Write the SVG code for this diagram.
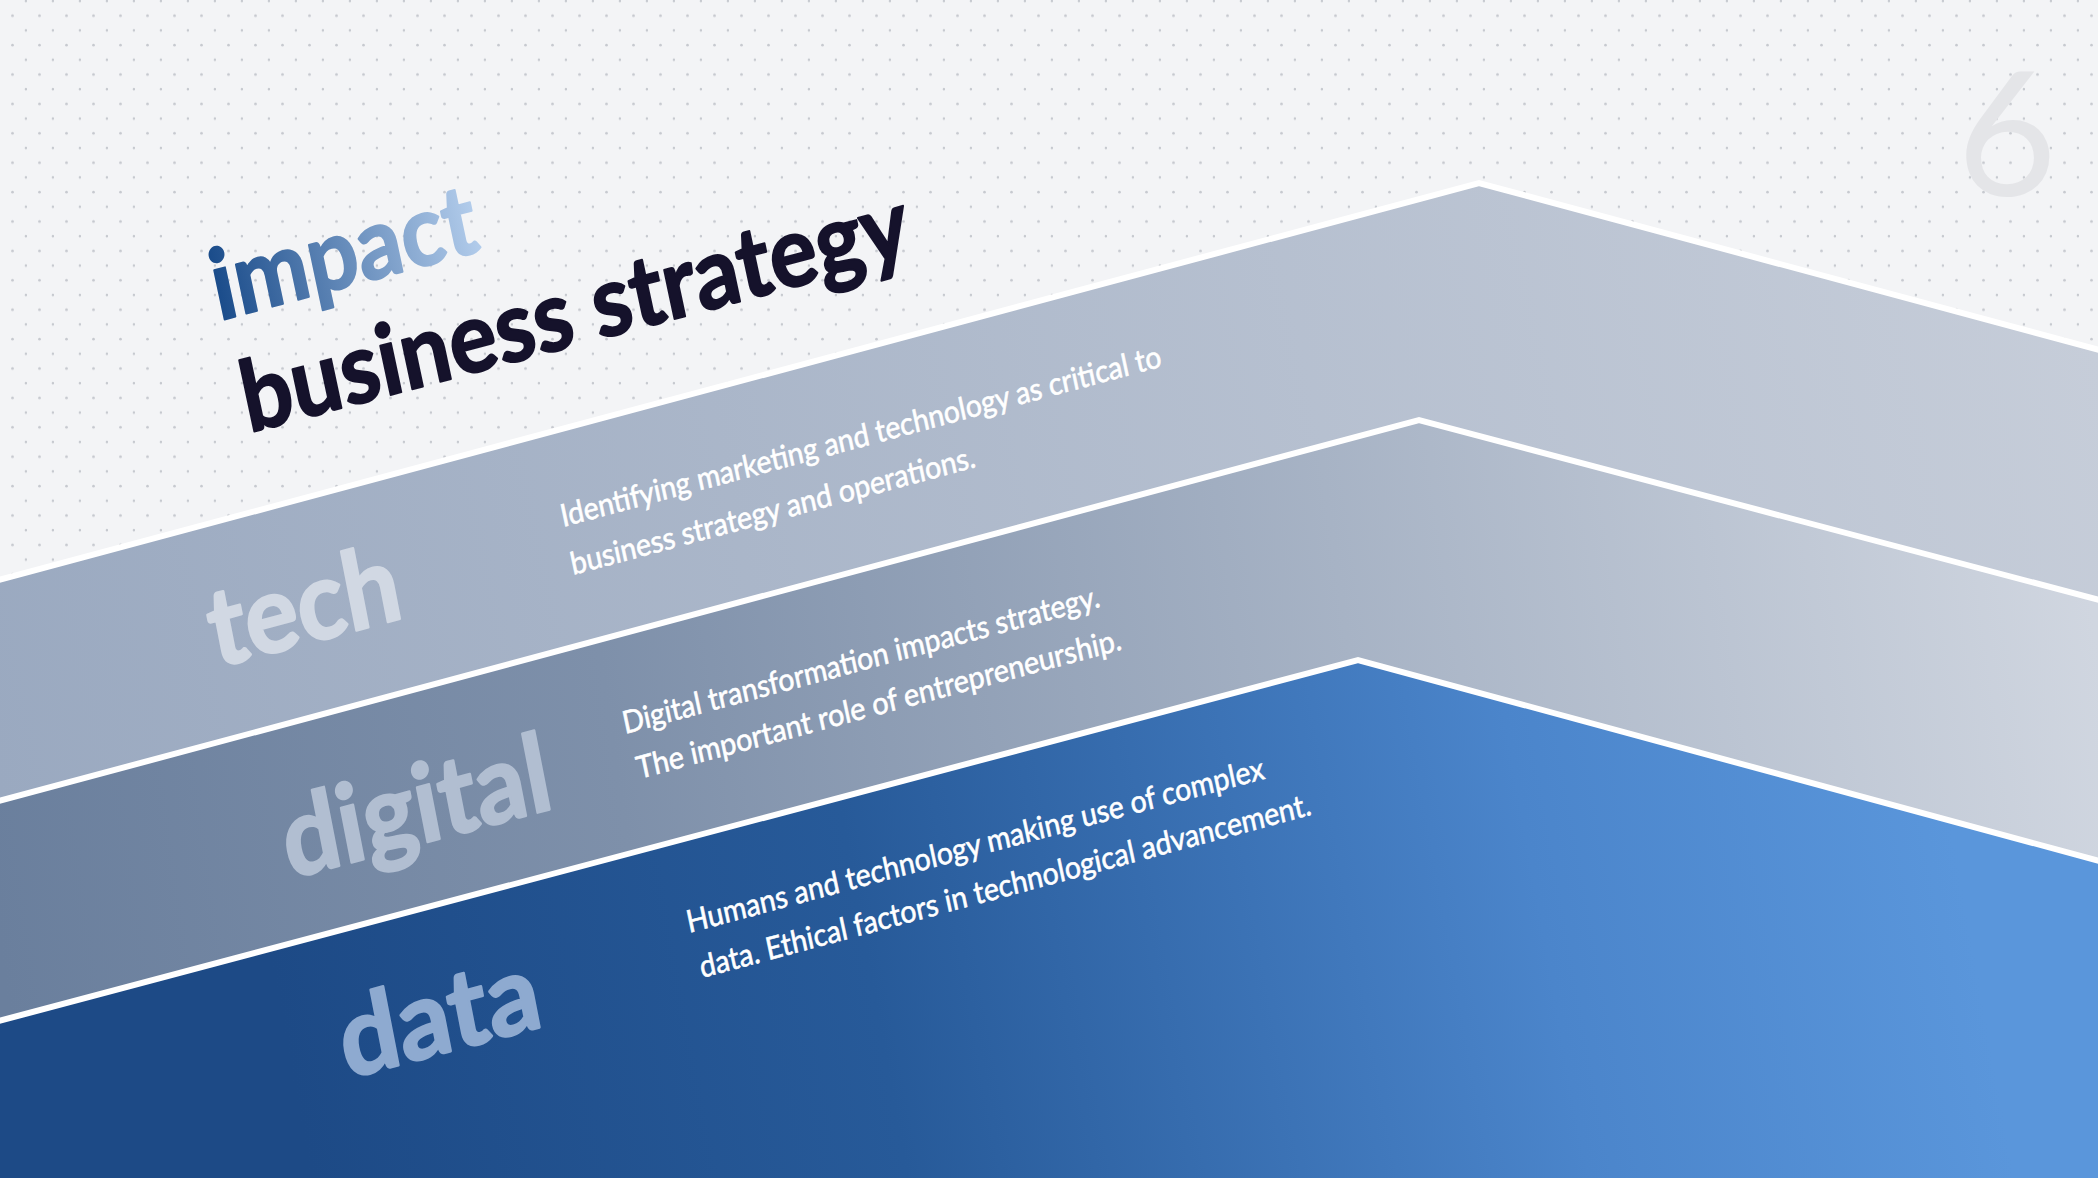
<svg xmlns="http://www.w3.org/2000/svg" width="2098" height="1178" viewBox="0 0 2098 1178">
  <style>
    .lbl { font-family: Lato, "Liberation Sans", sans-serif; font-weight: 700; font-size: 108px; stroke-width: 2.5; stroke-linejoin: round; }
    .desc { font-family: Lato, "Liberation Sans", sans-serif; font-weight: 400; font-size: 31px; fill: #ffffff; stroke: #ffffff; stroke-width: 0.6; }
    .ttl { font-family: Lato, "Liberation Sans", sans-serif; font-weight: 700; font-size: 98px; stroke-width: 2; stroke-linejoin: round; }
    .sep { fill: none; stroke: #ffffff; stroke-width: 6; stroke-linejoin: miter; }
  </style>
  <defs>
    <pattern id="dots" patternUnits="userSpaceOnUse" x="0" y="-6" width="27" height="29.4">
      <circle cx="26" cy="7" r="1.3" fill="#c6c9cf"/>
      <circle cx="12.5" cy="21.7" r="1.3" fill="#c6c9cf"/>
    </pattern>
    <linearGradient id="gTech" gradientUnits="userSpaceOnUse" x1="0" y1="800" x2="2098" y2="350">
      <stop offset="0" stop-color="#9aa9c0"/>
      <stop offset="1" stop-color="#c6cdd9"/>
    </linearGradient>
    <linearGradient id="gDigital" gradientUnits="userSpaceOnUse" x1="0" y1="950" x2="2098" y2="650">
      <stop offset="0" stop-color="#6a7f9d"/>
      <stop offset="0.3" stop-color="#7e90aa"/>
      <stop offset="1" stop-color="#d0d6e0"/>
    </linearGradient>
    <linearGradient id="gData" gradientUnits="userSpaceOnUse" x1="300" y1="1120" x2="1950" y2="820">
      <stop offset="0" stop-color="#1d4a86"/>
      <stop offset="0.35" stop-color="#275a99"/>
      <stop offset="0.75" stop-color="#4b85cb"/>
      <stop offset="1" stop-color="#5a96db"/>
    </linearGradient>
    <linearGradient id="gImpact" x1="0" y1="0" x2="1" y2="0">
      <stop offset="0" stop-color="#184a89"/>
      <stop offset="1" stop-color="#b2cceb"/>
    </linearGradient>
  </defs>

  <g id="background">
    <rect x="0" y="0" width="2098" height="1178" fill="#f3f4f6"/>
    <rect x="0" y="0" width="2098" height="1178" fill="url(#dots)"/>
    <text x="2007" y="196" text-anchor="middle" font-family="Lato, 'Liberation Sans', sans-serif" font-weight="400" font-size="172" fill="#e4e5e8">6</text>
  </g>

  <g id="title">
    <text class="ttl" fill="url(#gImpact)" stroke="url(#gImpact)" transform="translate(219,321) rotate(-15) skewX(-3)" textLength="272" lengthAdjust="spacingAndGlyphs">impact</text>
    <text class="ttl" fill="#15122b" stroke="#15122b" transform="translate(249,433) rotate(-15) skewX(-3)" textLength="688" lengthAdjust="spacingAndGlyphs">business strategy</text>
  </g>

  <g id="tech">
    <polygon points="0,580 1479,183 2098,350 2098,1178 0,1178" fill="url(#gTech)"/>
    <text class="lbl" fill="#d1d8e3" stroke="#d1d8e3" transform="translate(216,668) rotate(-15) skewX(-4)" textLength="196" lengthAdjust="spacingAndGlyphs">tech</text>
    <text class="desc" transform="translate(563,527) rotate(-15) skewX(-3)" textLength="621" lengthAdjust="spacingAndGlyphs">Identifying marketing and technology as critical to</text>
    <text class="desc" transform="translate(573,575) rotate(-15) skewX(-3)" textLength="418" lengthAdjust="spacingAndGlyphs">business strategy and operations.</text>
  </g>

  <g id="digital">
    <polygon points="0,801 1419,420 2098,600 2098,1178 0,1178" fill="url(#gDigital)"/>
    <text class="lbl" fill="#b1bed1" stroke="#b1bed1" transform="translate(290,879) rotate(-15) skewX(-4)" textLength="275" lengthAdjust="spacingAndGlyphs">digital</text>
    <text class="desc" transform="translate(625,734) rotate(-15) skewX(-3)" textLength="493" lengthAdjust="spacingAndGlyphs">Digital transformation impacts strategy.</text>
    <text class="desc" transform="translate(639,779) rotate(-15) skewX(-3)" textLength="501" lengthAdjust="spacingAndGlyphs">The important role of entrepreneurship.</text>
  </g>

  <g id="data">
    <polygon points="0,1021 1358,660 2098,861 2098,1178 0,1178" fill="url(#gData)"/>
    <text class="lbl" fill="#8eaad0" stroke="#8eaad0" transform="translate(347,1079) rotate(-15) skewX(-4)" textLength="205" lengthAdjust="spacingAndGlyphs">data</text>
    <text class="desc" transform="translate(689,933) rotate(-15) skewX(-3)" textLength="597" lengthAdjust="spacingAndGlyphs">Humans and technology making use of complex</text>
    <text class="desc" transform="translate(702,978) rotate(-15) skewX(-3)" textLength="632" lengthAdjust="spacingAndGlyphs">data. Ethical factors in technological advancement.</text>
  </g>

  <g id="separators">
    <polyline class="sep" points="-5,581 1479,183 2103,351"/>
    <polyline class="sep" points="-5,802 1419,420 2103,601"/>
    <polyline class="sep" points="-5,1022 1358,660 2103,862"/>
  </g>
</svg>
